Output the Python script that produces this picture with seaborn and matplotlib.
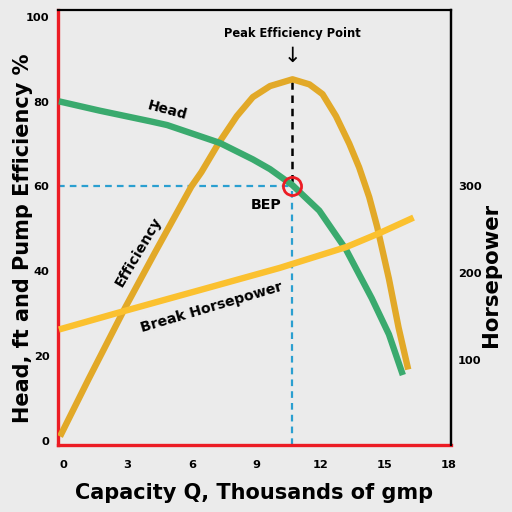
import numpy as np
import pandas as pd
import seaborn as sns
import matplotlib
matplotlib.use("Agg")
import matplotlib.pyplot as plt

# curves (x = thousands of gpm)
head_q = [-0.2, 1.7, 4.05, 4.85, 7.3, 8.85, 9.65, 10.7, 11.95, 13.2, 14.4, 15.2, 15.85]
head_v = [80.1, 77.9, 75.4, 74.5, 70.3, 66.4, 64.1, 60.3, 54.3, 45.1, 33.6, 25.1, 15.5]

eff_q = [-0.15, 1.18, 2.88, 4.28, 5.98, 6.45, 7.25, 8.1, 8.85, 9.65, 10.7, 11.49, 12.1,
         12.73, 13.35, 13.81, 14.28, 14.65, 15.2, 15.65, 16.1]
eff_v = [1.0, 14.5, 31.3, 44.4, 60.0, 63.4, 70.2, 76.6, 81.1, 83.7, 85.3, 84.1, 81.8,
         76.6, 70.1, 64.5, 57.5, 50.5, 38.2, 26.7, 16.8]

bhp_q = [-0.2, 2.8, 6.6, 10.1, 13.2, 14.75, 16.35]
bhp_hp = [135, 156, 182, 206, 230, 246, 264]

bep_q = 10.7
bep_v = 60
peak_v = 85.3

x_ticks = [0, 3, 6, 9, 12, 15, 18]
y_ticks = [0, 20, 40, 60, 80, 100]
hp_ticks = [100, 200, 300]

bg = "#ebebeb"
green = "#3aaa6e"
gold = "#e2a928"
yellow = "#fbc12f"
red = "#ec1c24"
blue = "#2a9fd0"

sns.set_style("white")
plt.rcParams["font.family"] = ["DejaVu Sans"]
plt.rcParams["font.weight"] = "bold"
plt.rcParams["text.color"] = "black"
plt.rcParams["axes.labelcolor"] = "black"
plt.rcParams["xtick.color"] = "black"
plt.rcParams["ytick.color"] = "black"

head = pd.DataFrame({"q": head_q, "v": head_v})
eff = pd.DataFrame({"q": eff_q, "v": eff_v})
bhp = pd.DataFrame({"q": bhp_q, "hp": bhp_hp})

fig = plt.figure(figsize=(5.12, 5.12), dpi=100, facecolor=bg)
ax = fig.add_axes([0.113, 0.131, 0.768, 0.849])
ax.set_facecolor(bg)
ax2 = ax.twinx()

# guide lines
dash = (0, (3, 2.3))
ax.plot([-0.25, bep_q], [bep_v, bep_v], color=blue, lw=1.6, ls=dash, zorder=1)
ax.plot([bep_q, bep_q], [-1, bep_v], color=blue, lw=1.6, ls=dash, zorder=1)
ax.plot([bep_q, bep_q], [bep_v + 1, peak_v], color="black", lw=1.8, ls=dash, zorder=1)

sns.lineplot(data=eff, x="q", y="v", color=gold, lw=4.6, ax=ax, sort=False,
             solid_capstyle="butt", solid_joinstyle="round", zorder=3)
sns.lineplot(data=head, x="q", y="v", color=green, lw=4.6, ax=ax, sort=False,
             solid_capstyle="butt", solid_joinstyle="round", zorder=4)
sns.lineplot(data=bhp, x="q", y="hp", color=yellow, lw=4.6, ax=ax2, sort=False,
             solid_capstyle="butt", solid_joinstyle="round", zorder=3)

ax.scatter([bep_q], [bep_v], s=170, facecolor="none", edgecolor=red, lw=2, zorder=6)

ax.set_xlim(-0.25, 18.1)
ax.set_ylim(-1, 101.6)
ax2.set_ylim(2, 503)
ax.set_xticks(x_ticks)
ax.set_yticks(y_ticks)
ax2.set_yticks(hp_ticks)
ax.tick_params(axis="both", length=0, labelsize=8.2)
ax.tick_params(axis="x", pad=11)
ax.tick_params(axis="y", pad=6)
ax2.tick_params(axis="y", length=0, labelsize=8.2, pad=5)

ax.set_xlabel("Capacity Q, Thousands of gmp", fontsize=15, fontweight="bold")
ax.xaxis.set_label_coords(0.5, -0.088)
ax.set_ylabel("Head, ft and Pump Efficiency %", fontsize=15, fontweight="bold")
ax.yaxis.set_label_coords(-0.062, 0.476)
ax2.set_ylabel("Horsepower", fontsize=15.3, fontweight="bold")
ax2.yaxis.set_label_coords(1.076, 0.39)

for sp in ["left", "bottom"]:
    ax.spines[sp].set_color(red)
    ax.spines[sp].set_linewidth(2.4)
for sp in ["top", "right"]:
    ax.spines[sp].set_color("black")
    ax.spines[sp].set_linewidth(1.6)
ax2.spines["left"].set_visible(False)
ax2.spines["bottom"].set_visible(False)
ax2.spines["top"].set_visible(False)
ax2.spines["right"].set_color("black")
ax2.spines["right"].set_linewidth(1.6)

ax.text(bep_q, 96, "Peak Efficiency Point", ha="center", va="center", fontsize=8.3, fontweight="bold")
ax.text(bep_q, 90.8, "\u2193", ha="center", va="center", fontsize=15, fontweight="normal")
ax.text(9.45, 55.6, "BEP", ha="center", va="center", fontsize=10.3, fontweight="bold")
ax.text(4.85, 77.9, "Head", ha="center", va="center", fontsize=10, fontweight="bold", rotation=-15)
ax.text(3.5, 44.7, "Efficiency", ha="center", va="center", fontsize=10.3, fontweight="bold", rotation=59.5)
ax.text(6.93, 31.5, "Break Horsepower", ha="center", va="center", fontsize=10.2, fontweight="bold", rotation=16.5)

fig.savefig("out.png", dpi=100, facecolor=bg)
